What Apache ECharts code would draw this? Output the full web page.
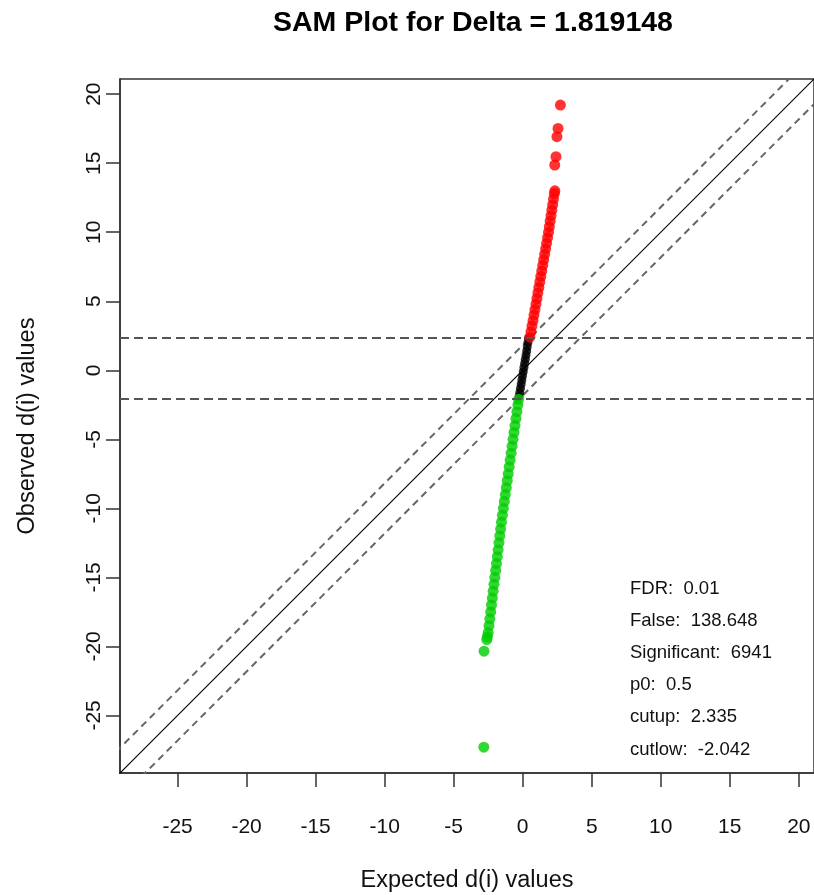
<!DOCTYPE html>
<html>
<head>
<meta charset="utf-8">
<script src="https://cdn.jsdelivr.net/npm/echarts@6/dist/echarts.min.js"></script>
<style>
html,body{margin:0;padding:0;background:#fff;}
#chart{width:814px;height:895px;}
</style>
</head>
<body>
<div id="chart"></div>
<script>
// ---- data ----
const titleText = 'SAM Plot for Delta = 1.819148';
const delta = 1.819148;
const cutUp = 2.335;
const cutLow = -2.042;
const axisMin = -29.17;
const axisMax = 21.1;
const tickValues = [-25, -20, -15, -10, -5, 0, 5, 10, 15, 20];

// significant, up-regulated (red)
const expectedUp = [0.52,0.60,0.67,0.75,0.82,0.89,0.96,1.03,1.10,1.17,1.24,1.31,1.38,1.45,1.52,1.59,1.66,1.73,1.80,1.87,1.93,1.99,2.05,2.11,2.17,2.23,2.29,2.33,2.32,2.41,2.48,2.56,2.73];
const observedUp = [2.4,2.8,3.2,3.6,4.0,4.4,4.8,5.2,5.6,6.0,6.4,6.8,7.2,7.6,8.0,8.4,8.8,9.2,9.6,10.0,10.4,10.8,11.2,11.6,12.0,12.4,12.8,13.0,14.87,15.47,16.92,17.52,19.21];

// not significant (black)
const expectedMid = [0.42,0.38,0.33,0.29,0.24,0.19,0.14,0.09,0.04,-0.01,-0.06,-0.11,-0.16,-0.21,-0.26];
const observedMid = [2.3,2.0,1.7,1.4,1.1,0.8,0.5,0.2,-0.1,-0.4,-0.7,-1.0,-1.3,-1.6,-1.9];

// significant, down-regulated (green)
const expectedDown = [-0.30,-0.35,-0.42,-0.49,-0.56,-0.63,-0.70,-0.77,-0.84,-0.91,-0.98,-1.05,-1.12,-1.19,-1.26,-1.33,-1.40,-1.47,-1.54,-1.60,-1.66,-1.72,-1.78,-1.84,-1.90,-1.96,-2.02,-2.08,-2.14,-2.20,-2.26,-2.32,-2.38,-2.44,-2.50,-2.56,-2.60,-2.80,-2.82];
const observedDown = [-2.1,-2.5,-3.0,-3.5,-4.0,-4.5,-5.0,-5.5,-6.0,-6.5,-7.0,-7.5,-8.0,-8.5,-9.0,-9.5,-10.0,-10.5,-11.0,-11.5,-12.0,-12.5,-13.0,-13.5,-14.0,-14.5,-15.0,-15.5,-16.0,-16.5,-17.0,-17.5,-18.0,-18.5,-19.0,-19.3,-19.5,-20.35,-27.3];

const statLabels = ['FDR:', 'False:', 'Significant:', 'p0:', 'cutup:', 'cutlow:'];
const statValues = ['0.01', '138.648', '6941', '0.5', '2.335', '-2.042'];

const xLabel = 'Expected d(i) values';
const yLabel = 'Observed d(i) values';
const lineEnds = [-35, 30];

// ---- build chart ----
const FONT = '"Liberation Sans", Arial, Helvetica, sans-serif';
const zip = (xs, ys) => xs.map((x, i) => [x, ys[i]]);
const diag = (off) => lineEnds.map(v => [v, v + off]);

const chart = echarts.init(document.getElementById('chart'), null, {renderer: 'canvas'});

const statGraphics = statLabels.map((lab, i) => ({
  type: 'text',
  left: 630,
  top: 579 + i * 32.2,
  style: {text: lab + '  ' + statValues[i], font: '18.5px ' + FONT, fill: '#111'}
}));

const option = {
  backgroundColor: '#fff',
  animation: false,
  title: {
    text: titleText,
    left: 468, top: 4, textAlign: 'center',
    textStyle: {fontFamily: FONT, fontWeight: 'bold', fontSize: 28.5, color: '#000'}
  },
  grid: {left: 120, top: 79, width: 694, height: 694, outerBoundsMode: 'none', containLabel: false,
    show: true, borderColor: '#333', borderWidth: 1.5, backgroundColor: 'transparent'},
  xAxis: {
    type: 'value', min: axisMin, max: axisMax,
    name: xLabel, nameLocation: 'middle', nameGap: 96,
    nameTextStyle: {fontFamily: FONT, fontSize: 23.5, color: '#111'},
    axisLine: {show: true, onZero: false, lineStyle: {color: '#333', width: 1.5}},
    axisTick: {show: true, length: 14, customValues: tickValues, lineStyle: {color: '#333', width: 1.5}},
    axisLabel: {show: true, customValues: tickValues, margin: 44, fontFamily: FONT, fontSize: 21, color: '#111'},
    splitLine: {show: false}
  },
  yAxis: {
    type: 'value', min: axisMin, max: axisMax,
    name: yLabel, nameLocation: 'middle', nameGap: 80, nameRotate: 90,
    nameTextStyle: {fontFamily: FONT, fontSize: 23.5, color: '#111'},
    axisLine: {show: true, onZero: false, lineStyle: {color: '#333', width: 1.5}},
    axisTick: {show: true, length: 14, customValues: tickValues, lineStyle: {color: '#333', width: 1.5}},
    axisLabel: {show: true, customValues: tickValues, rotate: 90, margin: 15, fontFamily: FONT, fontSize: 21, color: '#111'},
    splitLine: {show: false}
  },
  graphic: statGraphics,
  series: [
    {
      type: 'line', data: diag(0), symbol: 'none', clip: true, silent: true, z: 2,
      lineStyle: {color: '#000', width: 1.2},
      markLine: {
        silent: true, symbol: 'none', label: {show: false},
        lineStyle: {color: '#555', width: 2, type: [9, 5]},
        data: [{yAxis: cutUp}, {yAxis: cutLow}]
      }
    },
    {type: 'line', data: diag(delta), symbol: 'none', clip: true, silent: true, z: 2,
      lineStyle: {color: '#666', width: 2, type: [7, 5]}},
    {type: 'line', data: diag(-delta), symbol: 'none', clip: true, silent: true, z: 2,
      lineStyle: {color: '#666', width: 2, type: [7, 5]}},
    {type: 'scatter', data: zip(expectedMid, observedMid), symbolSize: 9, itemStyle: {color: '#000'}, z: 3},
    {type: 'scatter', data: zip(expectedUp, observedUp), symbolSize: 11, itemStyle: {color: '#f00'}, z: 3},
    {type: 'scatter', data: zip(expectedDown, observedDown), symbolSize: 11, itemStyle: {color: '#00cd00'}, z: 3}
  ]
};
chart.setOption(option);
</script>
</body>
</html>
